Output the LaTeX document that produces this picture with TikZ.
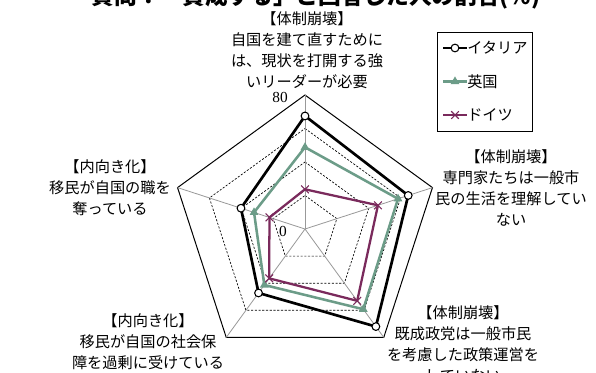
\documentclass[tikz,border=0pt]{standalone}
\usepackage{fontspec}
\setmainfont{Liberation Serif}
\newfontfamily\jp{Noto Sans CJK JP}
\definecolor{ukgreen}{RGB}{108,156,136}
\definecolor{depurple}{RGB}{122,42,92}
\usetikzlibrary{shapes.geometric,shapes.misc,calc}
\tikzset{
  lbl/.style={align=center, inner sep=0pt, font=\jp\fontsize{11.4}{15.75}\selectfont},
  num/.style={inner sep=0pt, font=\fontsize{11.5}{13}\selectfont},
  outerline/.style={draw=black, line width=0.75pt},
  gridd/.style={draw=black, line width=0.5pt, dash pattern=on 1.6pt off 1.2pt},
  axisline/.style={draw=gray!80, line width=0.6pt},
  itline/.style={draw=black, line width=2pt, line join=round},
  ukline/.style={draw=ukgreen, line width=1.9pt, line join=round},
  deline/.style={draw=depurple, line width=1.7pt, line join=round},
  itmark/.style={circle, draw=black, fill=white, line width=0.8pt, minimum size=5.8pt, inner sep=0pt},
  ukmark/.style={regular polygon, regular polygon sides=3, fill=ukgreen, minimum size=7.6pt, inner sep=0pt},
  demark/.style={cross out, draw=depurple, line width=0.8pt, minimum size=5pt, inner sep=0pt},
}
\begin{document}
\begin{tikzpicture}[x=0.75pt,y=-0.75pt]
\useasboundingbox (0,0) rectangle (596,372);
\fill[white] (0,0) rectangle (596,372);
% title (clipped at top)
\node[anchor=base, inner sep=0pt, font=\jp\bfseries\fontsize{17}{20}\selectfont] (title) at (316,4.5) {質問：「賛成する」と回答した人の割合(\%)};
\begin{scope}[shift={(305,229)}, x=0.75pt, y=0.75pt]
  \coordinate (c) at (0,0);
  \foreach \a [count=\i] in {90,18,306,234,162} {
    \coordinate (o\i) at (\a:134);
  }
  \foreach \v in {20,40,60} {
    \draw[gridd] (90:{\v*1.675}) -- (18:{\v*1.675}) -- (306:{\v*1.675}) -- (234:{\v*1.675}) -- (162:{\v*1.675}) -- cycle;
  }
  \draw[outerline] (o1) -- (o2) -- (o3) -- (o4) -- (o5) -- cycle;
  \foreach \i in {1,...,5} { \draw[axisline] (c) -- (o\i); }
  % data
  \foreach \a/\v [count=\i] in {90/67.5,18/64.8,306/72,234/47.2,162/40.2} {
    \coordinate (it\i) at (\a:{\v*1.675});
  }
  \foreach \a/\v [count=\i] in {90/48.8,18/58.4,306/59.2,234/41.3,162/32} {
    \coordinate (uk\i) at (\a:{\v*1.675});
  }
  \foreach \a/\v [count=\i] in {90/23.7,18/45.8,306/53,234/36.4,162/22.3} {
    \coordinate (de\i) at (\a:{\v*1.675});
  }
  \draw[itline] (it1) -- (it2) -- (it3) -- (it4) -- (it5) -- cycle;
  \foreach \i in {1,...,5} { \node[itmark] (itm\i) at (it\i) {}; }
  \draw[ukline] (uk1) -- (uk2) -- (uk3) -- (uk4) -- (uk5) -- cycle;
  \foreach \i in {1,...,5} { \node[ukmark] (ukm\i) at (uk\i) {}; }
  \draw[deline] (de1) -- (de2) -- (de3) -- (de4) -- (de5) -- cycle;
  \foreach \i in {1,...,5} { \node[demark] (dem\i) at (de\i) {}; }
\end{scope}
% scale labels
\node[num] (n80) at (280,97) {80};
\node[num] (n0) at (283,231) {0};
% category labels
\node[lbl] (ltop) at (307,50.5) {【体制崩壊】\\自国を建て直すために\\は、現状を打開する強\\いリーダーが必要};
\node[lbl] (lright) at (511,188) {【体制崩壊】\\専門家たちは一般市\\民の生活を理解してい\\ない};
\node[lbl] (lleft) at (110,187.5) {【内向き化】\\移民が自国の職を\\奪っている};
\node[lbl] (lbl2) at (148,342) {【内向き化】\\移民が自国の社会保\\障を過剰に受けている};
\node[lbl] (lbr) at (463,343.5) {【体制崩壊】\\既成政党は一般市民\\を考慮した政策運営を\\していない};
% legend
\node[draw=black, fill=white, line width=0.75pt, minimum width=71.25pt, minimum height=74.25pt, inner sep=0pt] (leg) at (484.5,81.5) {};
\coordinate (la1) at (443,48); \coordinate (lb1) at (467,48);
\coordinate (la2) at (443,81.5); \coordinate (lb2) at (467,81.5);
\coordinate (la3) at (443,115); \coordinate (lb3) at (467,115);
\draw[itline] (la1) -- (lb1);
\node[itmark] (lm1) at ($(la1)!0.5!(lb1)$) {};
\draw[ukline] (la2) -- (lb2);
\node[ukmark] (lm2) at ($(la2)!0.5!(lb2)$) {};
\draw[deline] (la3) -- (lb3);
\node[demark] (lm3) at ($(la3)!0.5!(lb3)$) {};
\node[lbl, anchor=west] (lt1) at (lb1) {イタリア};
\node[lbl, anchor=west] (lt2) at (lb2) {英国};
\node[lbl, anchor=west] (lt3) at (lb3) {ドイツ};
\end{tikzpicture}
\end{document}
